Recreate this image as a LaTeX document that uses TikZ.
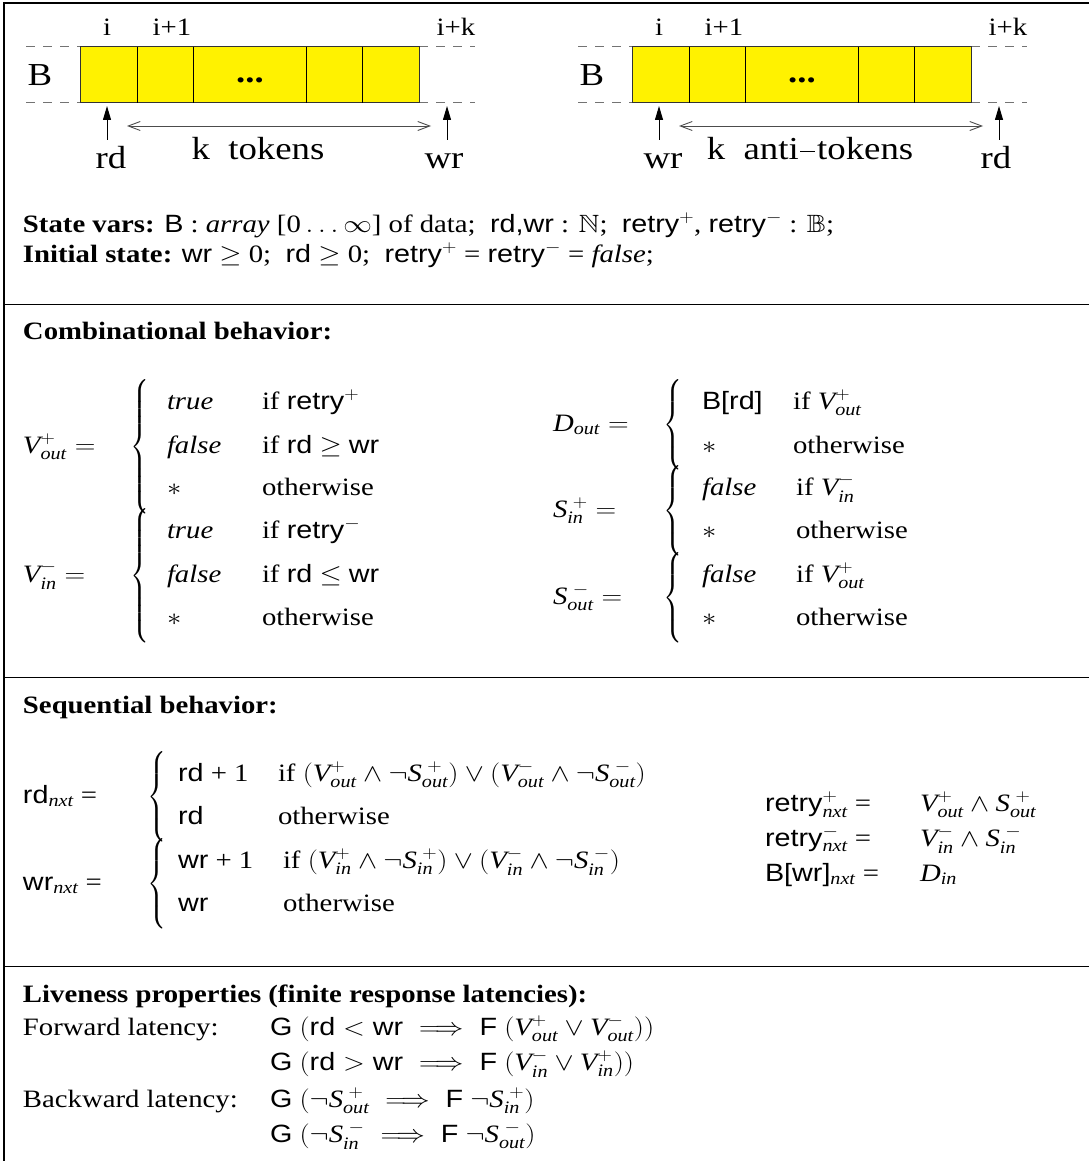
\documentclass[tikz,border=0pt]{standalone}
\usepackage{amsmath,amssymb}
\usepackage[no-math]{fontspec}
\setmainfont{Liberation Serif}
\setsansfont{Liberation Sans}
\usetikzlibrary{arrows.meta}
\newcommand\sv[1]{\textsf{#1}}
\newcommand\mi[1]{\textit{#1}}
\newcommand\Vv[2]{\mi{V}^{#1}_{\mi{#2}}}
\newcommand\Sv[2]{\mi{S}^{\;#1}_{\mi{#2}}}
\newcommand\BRC[1]{{\delimiterfactor=1000\delimitershortfall=0pt$\left\{\vcenter{\hbox{\rule{0pt}{#1pt}}}\right.$}}
\newcommand\tokdash{\kern1.5pt\rule[7.5pt]{13pt}{1.6pt}\kern1.5pt}
\begin{document}
\begin{tikzpicture}[x=1pt,y=-1pt,
  font=\fontsize{25}{30}\selectfont,
  tx/.style={anchor=base west,inner sep=0pt,outer sep=0pt,xscale=1.15},
  brc/.style={anchor=base west,inner sep=0pt,outer sep=0pt,xscale=0.85},
  ctr/.style={anchor=base,inner sep=0pt,outer sep=0pt,xscale=1.15},
  bigf/.style={font=\fontsize{32}{38}\selectfont},
  frameline/.style={line width=1.3pt},
  sepline/.style={line width=1pt},
  guideline/.style={draw=black!55,dash pattern=on 9pt off 8pt,line width=1pt},
  cellbox/.style={fill=yellow,draw=black!80,line width=1pt},
  ptr/.style={-{Triangle[length=14pt,width=8pt]},line width=1pt},
  spanarrow/.style={{Straight Barb[length=12pt,width=9pt]}-{Straight Barb[length=12pt,width=9pt]},line width=0.9pt,draw=black!70},
]
\useasboundingbox (0,0) rectangle (1089,1161);
% frame
\draw[frameline] (4,1161) -- (4,3) -- (1089,3);
\draw[sepline] (4,304) -- (1089,304);
\draw[sepline] (4,677) -- (1089,677);
\draw[sepline] (4,966) -- (1089,966);

% buffer diagrams
\foreach \dx/\p/\la/\lb/\lc in {0/L/rd/{k\ \ tokens}/wr,552/R/wr/{k\ \ anti\tokdash tokens}/rd}{
\begin{scope}[xshift=\dx pt]
  \draw[guideline] (26,47) -- (80,47) (26,103) -- (80,103) (419,47) -- (475,47) (419,103) -- (475,103);
  \draw[cellbox] (80,47) rectangle (419,103);
  \foreach \c in {137,193,306,362} \draw[line width=1pt] (\c,47) -- (\c,103);
  \node[ctr] (\p-i) at (107,36) {i};
  \node[ctr] (\p-ii) at (172,36) {i+1};
  \node[ctr] (\p-ik) at (456,36) {i+k};
  \node[inner sep=0pt,xscale=1.15,bigf] (\p-B) at (40,75) {B};
  \node[ctr,bigf] (\p-dots) at (250,83) {\textbf{...}};
  \coordinate (\p-at) at (107,140);
  \coordinate (\p-ah) at (107,106);
  \coordinate (\p-bt) at (447,140);
  \coordinate (\p-bh) at (447,106);
  \draw[ptr] (\p-at) -- (\p-ah);
  \draw[ptr] (\p-bt) -- (\p-bh);
  \coordinate (\p-sl) at (127,126);
  \coordinate (\p-sr) at (431,126);
  \draw[spanarrow] (\p-sl) -- (\p-sr);
  \node[ctr,bigf] (\p-la) at (111,169) {\la};
  \node[ctr,bigf] (\p-lb) at (258,160) {\lb};
  \node[ctr,bigf] (\p-lc) at (444,169) {\lc};
\end{scope}}

% state
\node[tx] (statevars) at (23,232) {\textbf{State vars:} \sv{B} : \mi{array} [0\,$\ldots\infty$] of data;\ \ \sv{rd,wr} : $\mathbb{N}$;\ \ \sv{retry}$^+$, \sv{retry}$^-$ : $\mathbb{B}$;};
\node[tx] (initstate) at (23,262) {\textbf{Initial state:} \sv{wr} $\geq$ 0;\ \ \sv{rd} $\geq$ 0;\ \ \sv{retry}$^+$ = \sv{retry}$^-$ = \mi{false};};

% combinational
\node[tx] (combhead) at (23,339) {\textbf{Combinational behavior:}};

\node[tx] (voutlbl) at (23,453) {$\Vv{+}{out} =$};
\node[brc] (voutbr) at (130,453) {\BRC{122}};
\node[tx] (vo1a) at (167,409) {\mi{true}};
\node[tx] (vo1b) at (262,409) {if \sv{retry}$^+$};
\node[tx] (vo2a) at (167,453) {\mi{false}};
\node[tx] (vo2b) at (262,453) {if \sv{rd} $\geq$ \sv{wr}};
\node[tx] (vo3a) at (167,495) {$*$};
\node[tx] (vo3b) at (262,495) {otherwise};

\node[tx] (vinlbl) at (23,582) {$\Vv{-}{in} =$};
\node[brc] (vinbr) at (130,582) {\BRC{122}};
\node[tx] (vi1a) at (167,538) {\mi{true}};
\node[tx] (vi1b) at (262,538) {if \sv{retry}$^-$};
\node[tx] (vi2a) at (167,582) {\mi{false}};
\node[tx] (vi2b) at (262,582) {if \sv{rd} $\leq$ \sv{wr}};
\node[tx] (vi3a) at (167,625) {$*$};
\node[tx] (vi3b) at (262,625) {otherwise};

\node[tx] (doutlbl) at (553,431) {$\mi{D}_{\mi{out}} =$};
\node[brc] (doutbr) at (663,431) {\BRC{80}};
\node[tx] (do1a) at (702,409) {\sv{B[rd]}};
\node[tx] (do1b) at (793,409) {if $\Vv{+}{out}$};
\node[tx] (do2a) at (702,453) {$*$};
\node[tx] (do2b) at (793,453) {otherwise};

\node[tx] (sinlbl) at (553,517) {$\Sv{+}{in} =$};
\node[brc] (sinbr) at (663,517) {\BRC{80}};
\node[tx] (si1a) at (702,495) {\mi{false}};
\node[tx] (si1b) at (796,495) {if $\Vv{-}{in}$};
\node[tx] (si2a) at (702,538) {$*$};
\node[tx] (si2b) at (796,538) {otherwise};

\node[tx] (soutlbl) at (553,604) {$\Sv{-}{out} =$};
\node[brc] (soutbr) at (663,604) {\BRC{80}};
\node[tx] (so1a) at (702,582) {\mi{false}};
\node[tx] (so1b) at (796,582) {if $\Vv{+}{out}$};
\node[tx] (so2a) at (702,625) {$*$};
\node[tx] (so2b) at (796,625) {otherwise};

% sequential
\node[tx] (seqhead) at (23,713) {\textbf{Sequential behavior:}};

\node[tx] (rdlbl) at (23,803) {\sv{rd}$_{\mi{nxt}}$ =};
\node[brc] (rdbr) at (147,803) {\BRC{80}};
\node[tx] (rd1a) at (178,781) {\sv{rd} + 1};
\node[tx] (rd1b) at (278,781) {if $(\Vv{+}{out} \wedge \neg\Sv{+}{out}) \vee (\Vv{-}{out} \wedge \neg\Sv{-}{out})$};
\node[tx] (rd2a) at (178,824) {\sv{rd}};
\node[tx] (rd2b) at (278,824) {otherwise};

\node[tx] (wrlbl) at (23,890) {\sv{wr}$_{\mi{nxt}}$ =};
\node[brc] (wrbr) at (147,890) {\BRC{80}};
\node[tx] (wr1a) at (178,868) {\sv{wr} + 1};
\node[tx] (wr1b) at (283,868) {if $(\Vv{+}{in} \wedge \neg\Sv{+}{in}) \vee (\Vv{-}{in} \wedge \neg\Sv{-}{in})$};
\node[tx] (wr2a) at (178,911) {\sv{wr}};
\node[tx] (wr2b) at (283,911) {otherwise};

\node[tx] (rtpl) at (765,811) {\sv{retry}$^+_{\mi{nxt}}$ =};
\node[tx] (rtpr) at (920,811) {$\Vv{+}{out} \wedge \Sv{+}{out}$};
\node[tx] (rtml) at (765,846) {\sv{retry}$^-_{\mi{nxt}}$ =};
\node[tx] (rtmr) at (920,846) {$\Vv{-}{in} \wedge \Sv{-}{in}$};
\node[tx] (bwl) at (765,881) {\sv{B[wr]}$_{\mi{nxt}}$ =};
\node[tx] (bwr) at (920,881) {$\mi{D}_{\mi{in}}$};

% liveness
\node[tx] (livehead) at (23,1002) {\textbf{Liveness properties (finite response latencies):}};
\node[tx] (fwdlbl) at (23,1035) {Forward latency:};
\node[tx] (fwd1) at (270,1035) {\sv{G} $(\sv{rd} < \sv{wr} \implies \sv{F}\ (\Vv{+}{out} \vee \Vv{-}{out}))$};
\node[tx] (fwd2) at (270,1070) {\sv{G} $(\sv{rd} > \sv{wr} \implies \sv{F}\ (\Vv{-}{in} \vee \Vv{+}{in}))$};
\node[tx] (bwdlbl) at (23,1107) {Backward latency:};
\node[tx] (bwd1) at (270,1107) {\sv{G} $(\neg\Sv{+}{out} \implies \sv{F}\ \neg\Sv{+}{in})$};
\node[tx] (bwd2) at (270,1142) {\sv{G} $(\neg\Sv{-}{in} \implies \sv{F}\ \neg\Sv{-}{out})$};
\end{tikzpicture}
\end{document}
